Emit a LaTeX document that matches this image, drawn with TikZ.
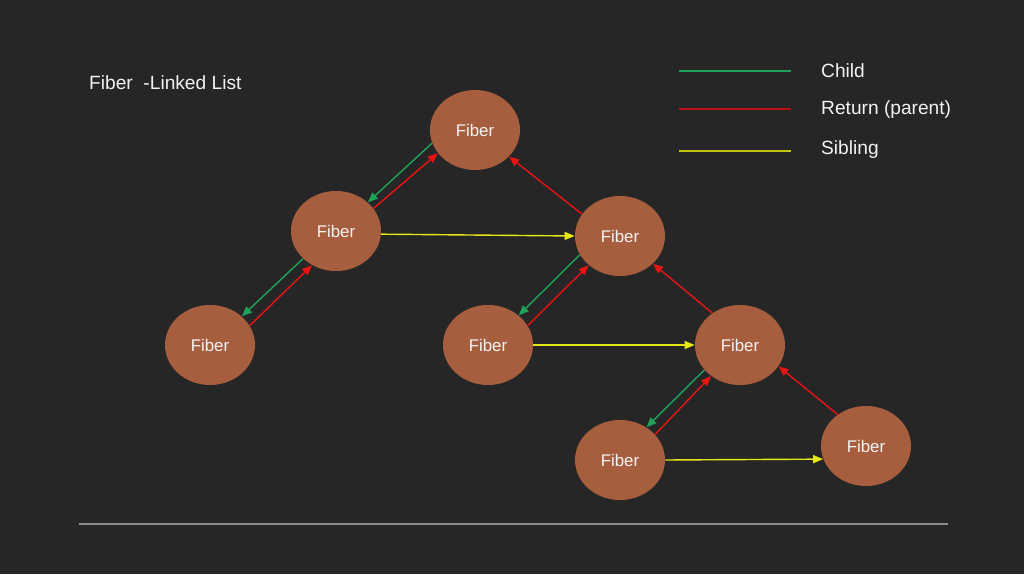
\documentclass[tikz,border=0pt]{standalone}
\usepackage{fontspec}
\setmainfont{Liberation Sans}
\usepackage{xcolor}
\usepackage{tikz}
\usetikzlibrary{arrows.meta,shapes.geometric}
\definecolor{bgc}{HTML}{262626}
\definecolor{fibc}{HTML}{A65E3E}
\definecolor{txtc}{HTML}{F2F2F2}
\definecolor{childc}{HTML}{1FA35A}
\definecolor{retc}{HTML}{E81414}
\definecolor{sibc}{HTML}{E6E619}
\definecolor{rulec}{HTML}{8C8C8C}
\tikzset{
  fib/.style={ellipse,fill=fibc,text=txtc,minimum width=1.8cm,minimum height=1.6cm,inner sep=0pt,font=\fontsize{9.6}{11}\selectfont},
  tip/.style={-{Triangle[length=2mm,width=1.6mm]},line width=0.8pt},
  childar/.style={tip,childc},
  retar/.style={tip,retc},
  sibar/.style={tip,sibc},
  lbl/.style={anchor=west,text=txtc,font=\fontsize{10.9}{13}\selectfont}
}

\begin{document}
\begin{tikzpicture}
\fill[bgc] (0,0) rectangle (20.48,11.48);
\useasboundingbox (0,0) rectangle (20.48,11.48);
\node[lbl] (title) at (1.66,9.82) {Fiber~~-Linked List};
% legend
\coordinate (lg1) at (13.58,10.06);
\coordinate (lg2) at (15.82,10.06);
\coordinate (lr1) at (13.58,9.30);
\coordinate (lr2) at (15.82,9.30);
\coordinate (ly1) at (13.58,8.46);
\coordinate (ly2) at (15.82,8.46);
\draw[childc,line width=1.1pt] (lg1) -- (lg2);
\draw[retc!80!black,line width=0.7pt] (lr1) -- (lr2);
\draw[sibc!85!black,line width=0.7pt] (ly1) -- (ly2);
\node[lbl] (lgc) at (16.30,10.06) {Child};
\node[lbl] (lgr) at (16.30,9.28) {Return (parent)};
\node[lbl] (lgs) at (16.30,8.48) {Sibling};
% fibers
\node[fib] (root) at (9.50,8.88) {Fiber};
\node[fib] (a) at (6.72,6.86) {Fiber};
\node[fib] (b) at (4.20,4.58) {Fiber};
\node[fib] (c) at (12.40,6.76) {Fiber};
\node[fib] (d) at (9.76,4.58) {Fiber};
\node[fib] (e) at (14.80,4.58) {Fiber};
\node[fib] (f) at (12.40,2.28) {Fiber};
\node[fib] (g) at (17.32,2.56) {Fiber};
% child
\draw[childar] (root.197) -- (a.42);
\draw[childar] (a.220) -- (b.42);
\draw[childar] (c.205) -- (d.44);
\draw[childar] (e.215) -- (f.51);
% return
\draw[retar] (a.31) -- (root.212);
\draw[retar] (b.26) -- (a.235);
\draw[retar] (c.150) -- (root.-38);
\draw[retar] (d.26) -- (c.223);
\draw[retar] (e.131) -- (c.-40);
\draw[retar] (f.36) -- (e.227);
\draw[retar] (g.132) -- (e.-29);
% sibling
\draw[sibar] (a.-4) -- (c.west);
\draw[sibar] (d.east) -- (e.west);
\draw[sibar] (f.east) -- (g.197);
% rule
\coordinate (r1) at (1.58,1.00);
\coordinate (r2) at (18.96,1.00);
\draw[rulec,line width=0.8pt] (r1) -- (r2);
\end{tikzpicture}
\end{document}
